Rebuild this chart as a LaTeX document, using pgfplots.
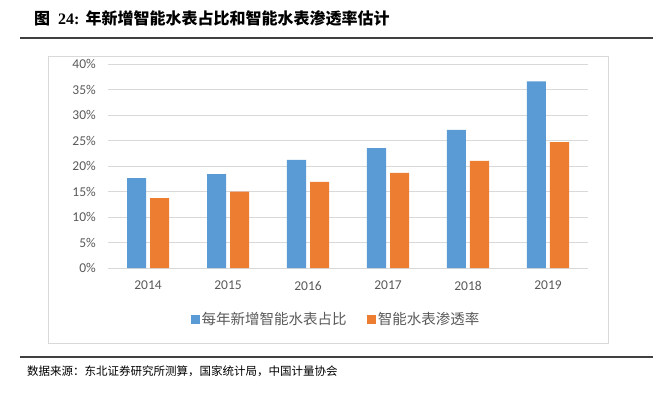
\documentclass[border=0pt]{standalone}
\usepackage{fontspec}
\setmainfont{Carlito}
\newfontfamily\cjk{Noto Sans CJK SC}
\newfontfamily\ser{Liberation Serif}
\usepackage{pgfplots}
\pgfplotsset{compat=1.18}
\definecolor{cblue}{HTML}{5B9BD5}
\definecolor{corange}{HTML}{ED7D31}
\definecolor{gridc}{HTML}{D9D9D9}
\definecolor{tickc}{HTML}{595959}
\definecolor{rulec}{HTML}{404040}
\begin{document}
\begin{tikzpicture}[x=1pt,y=1pt]
\path[use as bounding box] (0,0) rectangle (653,-392);
\node[anchor=west, inner sep=0pt] at (34,-18) {\fontsize{16}{18}\selectfont{\cjk\bfseries 图}\hspace{8pt}{\ser\bfseries 24:}\hspace{6pt}{\cjk\bfseries 年新增智能水表占比和智能水表渗透率估计}};
\draw[rulec, line width=2pt] (20,-38) -- (653,-38);
\draw[gridc, line width=0.75pt] (48,-56) rectangle (608,-343);
\draw[rulec, line width=1.5pt] (20,-357) -- (653,-357);
\node[anchor=west, inner sep=0pt] at (27,-371) {\cjk\fontsize{11.5}{13}\selectfont 数据来源：东北证券研究所测算，国家统计局，中国计量协会};
\begin{axis}[
  at={(108pt,-268pt)}, anchor=south west,
  scale only axis, width=480pt, height=204pt,
  ybar=4pt, bar width=19pt,
  xmin=-0.5, xmax=5.5, ymin=0, ymax=40,
  xtick=data, xticklabels={2014,2015,2016,2017,2018,2019},
  ytick={0,5,10,15,20,25,30,35,40},
  yticklabels={0\%,5\%,10\%,15\%,20\%,25\%,30\%,35\%,40\%},
  axis line style={draw=none}, major tick length=0pt,
  ymajorgrids, grid style={gridc, line width=0.9pt},
  ticklabel style={font=\fontsize{13.5}{15}\selectfont, text=tickc},
  yticklabel style={inner sep=0pt, xshift=-12pt},
  xticklabel style={inner sep=0pt, yshift=-13pt},
  legend style={at={(0.475,-0.25)}, anchor=center, draw=none, fill=none,
    legend columns=2, font=\cjk\fontsize{14.5}{16}\selectfont, text=tickc,
    /tikz/every even column/.append style={column sep=18pt}},
  legend image code/.code={\fill[#1] (0pt,-4.5pt) rectangle (9pt,4.5pt);},
]
\addplot[fill=cblue, draw=none] coordinates {(0,17.6) (1,18.4) (2,21.2) (3,23.5) (4,27.1) (5,36.6)};
\addplot[fill=corange, draw=none] coordinates {(0,13.7) (1,15.0) (2,16.9) (3,18.65) (4,21.0) (5,24.7)};
\legend{每年新增智能水表占比,智能水表渗透率}
\end{axis}
\end{tikzpicture}
\end{document}
